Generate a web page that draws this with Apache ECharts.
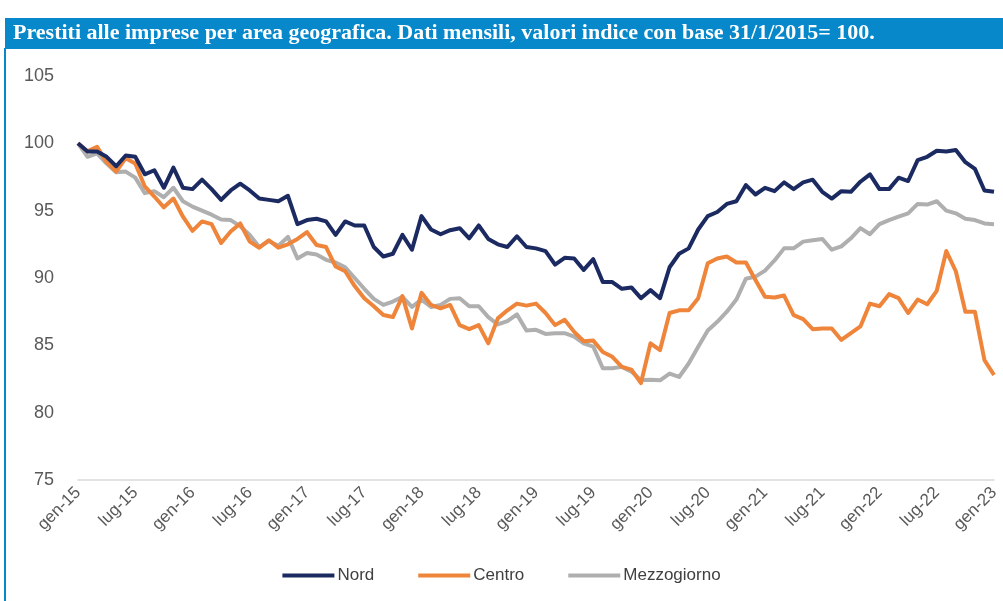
<!DOCTYPE html>
<html>
<head>
<meta charset="utf-8">
<script src="https://cdn.jsdelivr.net/npm/echarts@6/dist/echarts.min.js"></script>
<style>
  html, body { margin: 0; padding: 0; background: #fff; }
  #chart { width: 1003px; height: 601px; }
</style>
</head>
<body>
<div id="chart"></div>
<script>
// mesi in italiano per le etichette dell'asse x
const mesi = ['gen', 'feb', 'mar', 'apr', 'mag', 'giu', 'lug', 'ago', 'set', 'ott', 'nov', 'dic']
const categorie = []
for (let a = 15; a <= 23; a++) {
  for (let m = 0; m < 12; m++) {
    if (a === 23 && m > 0) break
    categorie.push(mesi[m] + '-' + a)
  }
}

// valori indice (31/1/2015 = 100)
const nord = [
  100, 99.4, 99.4, 99.0, 98.3, 99.1, 99.0, 97.7, 98.0, 96.7, 98.2, 96.7,
  96.6, 97.3, 96.6, 95.8, 96.5, 97.0, 96.5, 95.9, 95.8, 95.7, 96.1, 94.0,
  94.3, 94.4, 94.2, 93.2, 94.2, 93.9, 93.9, 92.3, 91.6, 91.8, 93.2, 92.1,
  94.6, 93.6, 93.25, 93.55, 93.7, 92.95, 93.9, 92.9, 92.5, 92.3, 93.1, 92.3,
  92.2, 92.0, 91.0, 91.5, 91.45, 90.6, 91.4, 89.7, 89.7, 89.2, 89.3, 88.5,
  89.1, 88.5, 90.8, 91.8, 92.2, 93.6, 94.6, 94.9, 95.5, 95.7, 96.9, 96.2,
  96.7, 96.45, 97.1, 96.6, 97.1, 97.3, 96.4, 95.9, 96.45, 96.4, 97.15, 97.7,
  96.6, 96.6, 97.45, 97.2, 98.75, 99.0, 99.45, 99.4, 99.5, 98.6, 98.1, 96.5,
  96.4
]
const centro = [
  100, 99.4, 99.75, 98.6, 97.9, 98.9, 98.5, 96.8, 96.05, 95.25, 95.9, 94.55,
  93.5, 94.2, 94.0, 92.6, 93.45, 94.05, 92.7, 92.25, 92.8, 92.25, 92.5, 92.9,
  93.4, 92.45, 92.3, 90.85, 90.5, 89.4, 88.5, 87.9, 87.25, 87.1, 88.65, 86.25,
  88.9, 88.0, 87.75, 88.0, 86.5, 86.2, 86.5, 85.15, 87.0, 87.6, 88.1, 87.95,
  88.1, 87.4, 86.5, 86.9, 86.0, 85.3, 85.35, 84.5, 84.15, 83.4, 83.2, 82.2,
  85.15, 84.65, 87.4, 87.6, 87.6, 88.5, 91.1, 91.45, 91.6, 91.15, 91.15, 89.85,
  88.6, 88.55, 88.7, 87.25, 86.95, 86.2, 86.25, 86.25, 85.4, 85.9, 86.4, 88.1,
  87.9, 88.8, 88.5, 87.4, 88.4, 88.05, 89.05, 92.0, 90.5, 87.5, 87.5, 83.9,
  82.8
]
const mezzogiorno = [
  100, 99.0, 99.25, 98.5, 97.85, 97.9, 97.45, 96.3, 96.45, 96.0, 96.7, 95.7,
  95.3, 95.0, 94.7, 94.35, 94.3, 93.85, 93.2, 92.3, 92.75, 92.4, 93.05, 91.45,
  91.85, 91.75, 91.35, 91.15, 90.8, 90.0, 89.2, 88.45, 88.0, 88.25, 88.6, 87.85,
  88.4, 87.85, 88.0, 88.45, 88.5, 87.9, 87.9, 87.1, 86.55, 86.8, 87.3, 86.1,
  86.15, 85.85, 85.9, 85.9, 85.65, 85.15, 84.9, 83.3, 83.3, 83.4, 83.05, 82.4,
  82.45, 82.4, 82.9, 82.65, 83.65, 84.9, 86.1, 86.75, 87.5, 88.4, 89.95, 90.1,
  90.55, 91.3, 92.2, 92.2, 92.7, 92.8, 92.9, 92.1, 92.35, 92.95, 93.7, 93.25,
  94.0, 94.3, 94.55, 94.8, 95.5, 95.45, 95.7, 95.0, 94.8, 94.4, 94.3, 94.05,
  94.0
]

const titolo = 'Prestiti alle imprese per area geografica. Dati mensili, valori indice con base 31/1/2015= 100.'
const blu = '#0788CA'

const mychart = echarts.init(document.getElementById('chart'))

const serie = (nome, dati, colore) => ({
  name: nome,
  type: 'line',
  data: dati,
  showSymbol: false,
  lineStyle: { color: colore, width: 4, join: 'round' },
  itemStyle: { color: colore },
  emphasis: { disabled: true },
})

mychart.setOption({
  animation: false,
  graphic: [
    // barra del titolo
    { type: 'rect', left: 5, top: 18, shape: { width: 998, height: 31 }, style: { fill: blu } },
    {
      type: 'text', left: 13, top: 22,
      style: { text: titolo, fill: '#fff', font: 'bold 22px "Liberation Serif", serif' },
    },
    // bordo sinistro
    { type: 'rect', left: 4, top: 48, shape: { width: 2, height: 560 }, style: { fill: blu } },
  ],
  grid: { left: 78, right: 9, top: 76, bottom: 121 },
  xAxis: {
    type: 'category',
    data: categorie,
    boundaryGap: false,
    axisLine: { lineStyle: { color: '#d9d9d9', width: 1.5 } },
    axisTick: { show: false },
    axisLabel: {
      interval: 5,
      rotate: 45,
      margin: 10,
      color: '#595959',
      fontSize: 17,
      fontFamily: 'Liberation Sans',
    },
  },
  yAxis: {
    type: 'value',
    min: 75,
    max: 105,
    interval: 5,
    splitLine: { show: false },
    axisLine: { show: false },
    axisTick: { show: false },
    axisLabel: { color: '#595959', fontSize: 18, margin: 24, fontFamily: 'Liberation Sans' },
  },
  legend: {
    bottom: 12,
    left: 'center',
    itemWidth: 52,
    itemHeight: 4,
    itemGap: 44,
    icon: 'rect',
    textStyle: { color: '#404040', fontSize: 17, fontFamily: 'Liberation Sans', padding: [0, 0, 0, -2] },
    data: ['Nord', 'Centro', 'Mezzogiorno'],
  },
  series: [
    serie('Mezzogiorno', mezzogiorno, '#AFAFAF'),
    serie('Centro', centro, '#EE853A'),
    serie('Nord', nord, '#1B2A61'),
  ],
})
</script>
</body>
</html>
